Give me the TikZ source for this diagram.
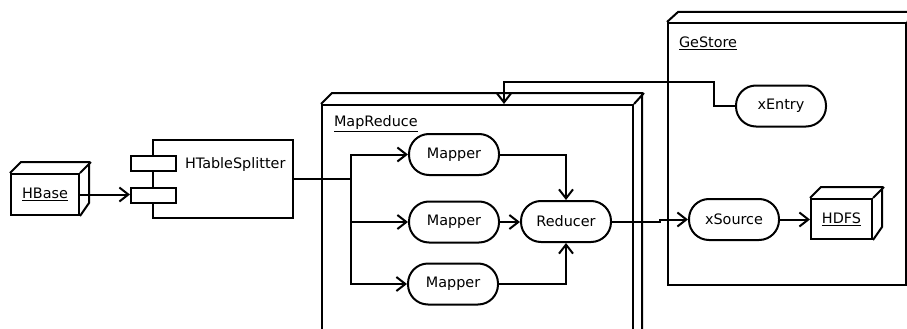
\documentclass[tikz,border=0pt]{standalone}
\usepackage{fontspec}
\setmainfont{DejaVu Sans}
\usetikzlibrary{arrows.meta,calc}
\begin{document}
\begin{tikzpicture}[x=1pt,y=-1pt,line width=2pt,
  every node/.style={font=\fontsize{14.4}{16}\selectfont, inner sep=0pt},
  stadium/.style={draw, fill=white, rounded corners=20pt, minimum width=90pt, minimum height=41pt},
  port/.style={draw, fill=white, minimum width=45pt, minimum height=15pt},
  arr/.style={-{Straight Barb[length=9pt,width=14pt]}}]
\useasboundingbox (0,0) rectangle (907,329);

% MapReduce frame
\node[draw, minimum width=311pt, minimum height=260pt, anchor=north west] (mr) at (321,104) {};
\draw (mr.north west) -- ++(11,-11) -- ++(310,0) -- ++(0,260);
\draw (mr.north east) -- ++(10,-11);
\node[anchor=west] (mrl) at (333,124) {\underline{MapReduce}};

% GeStore frame
\node[draw, minimum width=238pt, minimum height=262pt, anchor=north west] (gs) at (667,22) {};
\draw (gs.north west) -- ++(11,-10) -- ++(238,0) -- ++(0,262);
\draw (gs.north east) -- ++(11,-10);
\node[anchor=west] (gsl) at (678,43) {\underline{GeStore}};

% HBase
\node[draw, minimum width=68pt, minimum height=41pt] (hbase) at (45,194.5) {\underline{HBase}};
\draw (hbase.north west) -- ++(11,-11) -- ++(68,0) -- ++(0,41) -- (hbase.south east);
\draw (hbase.north east) -- ++(11,-11);

% HTableSplitter
\node[draw, minimum width=140pt, minimum height=78pt] (hts) at (223,179) {};
\node[anchor=west] (htsl) at (184,165) {HTableSplitter};
\node[port] (p1) at (153.5,163.5) {};
\node[port] (p2) at (153.5,195) {};
\draw[arr] (hbase.east) -- (hbase.east -| p2.west);

% Mappers and reducer
\node[stadium] (m1) at (454,154.5) {Mapper};
\node[stadium] (m2) at (454,222) {Mapper};
\node[stadium] (m3) at (453,284) {Mapper};
\node[stadium] (r) at (566,221.5) {Reducer};

\coordinate (bus) at (351,179);
\draw (hts.east) -- (bus);
\draw[arr] (bus) |- (m1.west);
\draw[arr] (bus) |- (m3.west);
\draw[arr] (bus |- m2.west) -- (m2.west);

\draw[arr] (m1.east) -| (r.north);
\draw[arr] (m2.east) -- (m2.east -| r.west);
\draw[arr] (m3.east) -| (r.south);

% GeStore contents
\node[stadium] (xe) at (781,106) {xEntry};
\node[stadium] (xs) at (734,219.5) {xSource};
\node[draw, fill=white, minimum width=61pt, minimum height=40pt] (hdfs) at (841.5,219) {\underline{HDFS}};
\draw (hdfs.north west) -- ++(11,-11) -- ++(61,0) -- ++(0,40) -- (hdfs.south east);
\draw (hdfs.north east) -- ++(11,-11);

\coordinate (turn) at (714,82);
\coordinate (tgt) at (504,104);
\draw[arr] (xe.west) -- (xe.west -| turn) -- (turn) -- (turn -| tgt) -- (tgt);

\coordinate (jog) at (660,221);
\draw[arr] (r.east) -- (r.east -| jog) -- (jog |- xs.west) -- (xs.west);
\draw[arr] (xs.east) -- (xs.east -| hdfs.west);
\end{tikzpicture}
\end{document}
